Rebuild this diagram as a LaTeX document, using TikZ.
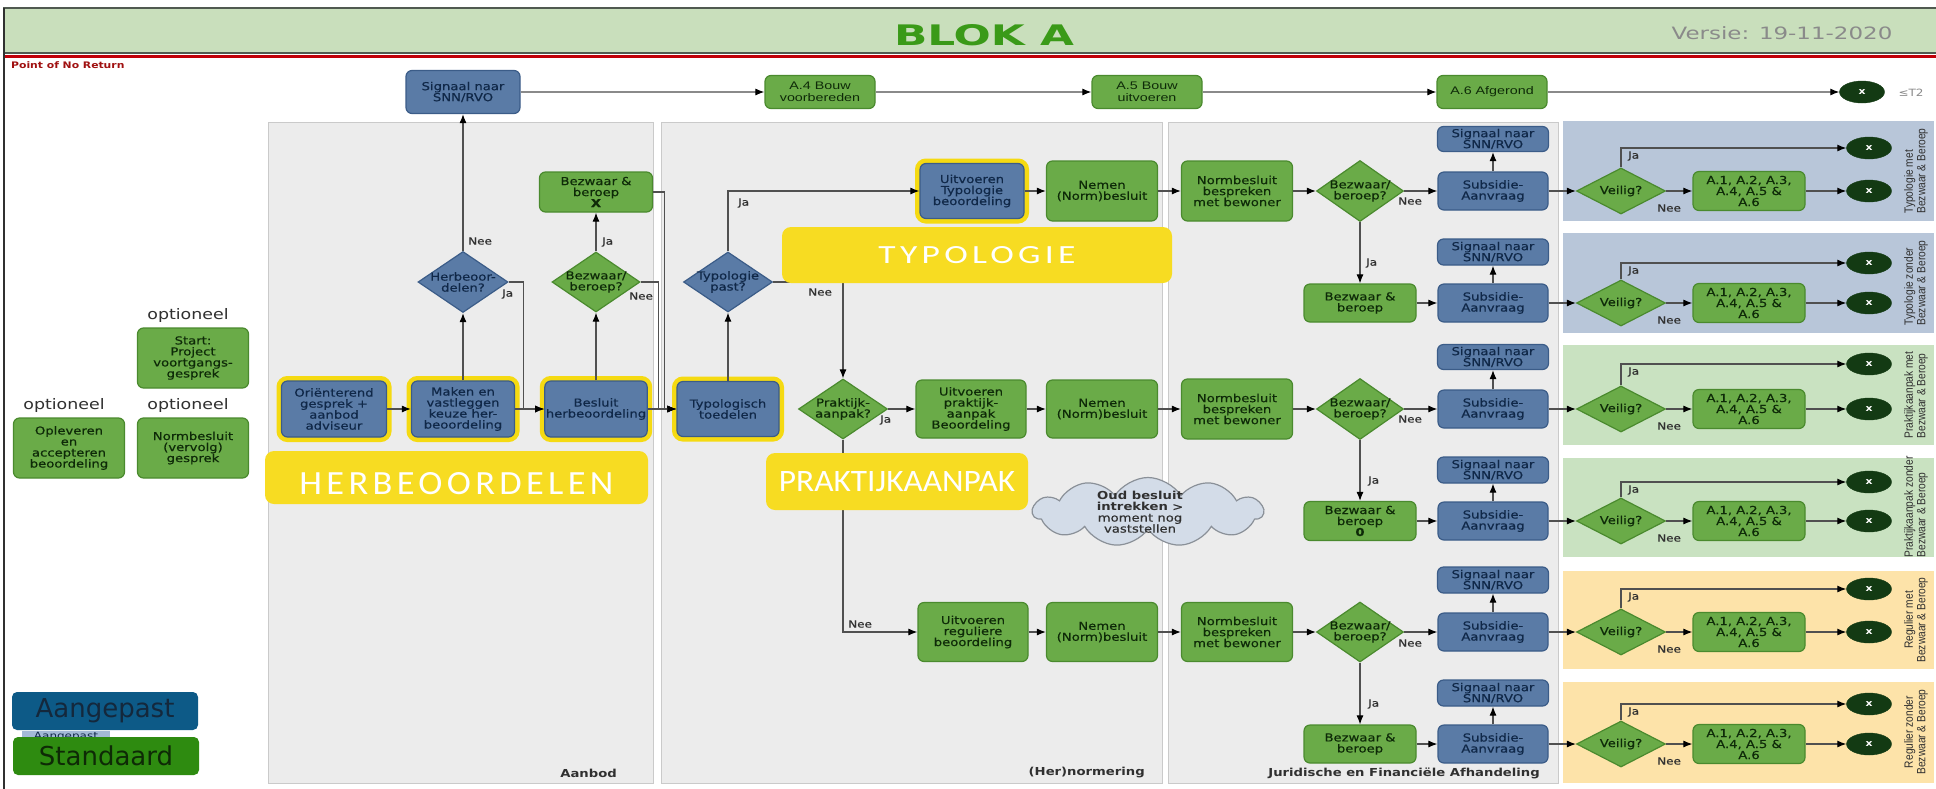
\documentclass[tikz,border=0pt]{standalone}
\usepackage{fontspec}
\usepackage{graphicx}
\setmainfont{DejaVu Sans}
\newfontfamily\bx[FakeStretch=1.2]{DejaVu Sans}
\newfontfamily\bxm[FakeStretch=1.2,FakeBold=0.5]{DejaVu Sans}
\newfontfamily\vx[FakeStretch=1.35]{DejaVu Sans}
\newfontfamily\ax[FakeStretch=1.3]{Liberation Sans}
\newfontfamily\rx[FakeStretch=0.85]{Liberation Sans}
\newfontfamily\cx{Carlito}
\newfontfamily\cxs[LetterSpace=12]{Carlito}
\usetikzlibrary{shapes.geometric,shapes.symbols,arrows.meta}
\definecolor{bluefill}{HTML}{5A7BA6}
\definecolor{blueborder}{HTML}{3B5C88}
\definecolor{bluetext}{HTML}{102848}
\definecolor{greenfill}{HTML}{6AAB48}
\definecolor{greenborder}{HTML}{4A8A2E}
\definecolor{greentext}{HTML}{0E2A08}
\definecolor{ringyellow}{HTML}{F5DA12}
\definecolor{labyellow}{HTML}{F7DC22}
\definecolor{panelgray}{HTML}{ECECEC}
\definecolor{panelborder}{HTML}{CACACA}
\definecolor{rblue}{HTML}{B8C6D9}
\definecolor{rgreen}{HTML}{C9E2C1}
\definecolor{rorange}{HTML}{FDE3A9}
\definecolor{enddark}{HTML}{133A13}
\definecolor{headergreen}{HTML}{C9DFBC}
\definecolor{headerborder}{HTML}{505A50}
\definecolor{titlegreen}{HTML}{3A9A18}
\definecolor{pnrred}{HTML}{A01010}
\definecolor{redline}{HTML}{C00008}
\definecolor{linegray}{HTML}{505050}
\definecolor{toplinegray}{HTML}{8A8A8A}
\definecolor{labgray}{HTML}{303030}
\definecolor{versgray}{HTML}{8A8A8A}
\definecolor{cloudfill}{HTML}{D3DCE8}
\definecolor{cloudborder}{HTML}{8A9098}
\definecolor{legblue}{HTML}{0D5A87}
\definecolor{leggreen}{HTML}{2E8B10}
\definecolor{legtiny}{HTML}{A3B9D6}
\definecolor{legtextb}{HTML}{14283C}
\definecolor{legtextg}{HTML}{0E2A06}
\newcommand\myfs[1]{\fontsize{#1}{#1}\selectfont}
\newcommand\myfsb[2]{\fontsize{#1}{#2}\selectfont}
\tikzset{
 box/.style={rectangle, rounded corners=6pt, line width=1.2pt, align=center, inner sep=1pt, font=\bxm\myfsb{11}{11}},
 bbox/.style={box, fill=bluefill, draw=blueborder, text=bluetext},
 gbox/.style={box, fill=greenfill, draw=greenborder, text=greentext},
 ring/.style={preaction={draw=ringyellow, line width=10pt}},
 sz/.style 2 args={minimum width=#1pt, minimum height=#2pt},
 dia/.style={diamond, inner sep=0pt, line width=1.2pt},
 bdia/.style={dia, fill=bluefill, draw=blueborder},
 gdia/.style={dia, fill=greenfill, draw=greenborder},
 dtextb/.style={align=center, font=\bxm\myfsb{11}{11}, text=bluetext, inner sep=0pt},
 dtextg/.style={align=center, font=\bxm\myfsb{11}{11}, text=greentext, inner sep=0pt},
 endp/.style={ellipse, fill=enddark, draw=enddark, minimum width=45pt, minimum height=22pt, inner sep=0pt, text=white, font=\bx\bfseries\myfs{9}},
 arr/.style={draw=linegray, line width=1.1pt, -{Latex[length=9pt,width=7pt,color=black]}},
 tarr/.style={arr, draw=toplinegray},
 lab/.style={font=\bxm\myfs{10}, text=labgray, inner sep=0pt, anchor=west},
 topf/.style={font=\ax\myfsb{11}{12}},
 optf/.style={font=\bx\myfs{14.5}, text=labgray, inner sep=0pt},
 ylab/.style={rectangle, rounded corners=9pt, fill=labyellow, inner sep=0pt},
 yltext/.style={text=white, inner sep=0pt},
 rot/.style={rotate=90, font=\rx\myfsb{12}{12.5}, text=labgray, inner sep=0pt},
 lanelab/.style={font=\bx\bfseries\myfs{11}, text=labgray, inner sep=0pt, anchor=east},
}
\begin{document}
\begin{tikzpicture}[x=1pt,y=-1pt]
\useasboundingbox (0,0) rectangle (1936,788);
\fill[white] (0,0) rectangle (1936,788);
% header
\draw[fill=headergreen, draw=headerborder, line width=1.2pt] (4,8) rectangle (1945,53);
\draw[redline, line width=3.5pt] (4,56.5) -- (1945,56.5);
\draw[labgray, line width=1.6pt] (4,8) -- (4,792);
\node[text=titlegreen, inner sep=0pt] (title) at (984,35) {\resizebox{180pt}{21pt}{\bx\bfseries BLOK A}};
\node[text=versgray, font=\vx\myfs{17}, inner sep=0pt] (versie) at (1782,33) {Versie: 19-11-2020};
\node[text=pnrred, font=\bx\bfseries\myfs{9}, inner sep=0pt, anchor=west] (pnr) at (11,65) {Point of No Return};
% panels
\filldraw[fill=panelgray, draw=panelborder, line width=1pt] (268,122) rectangle (653,783);
\filldraw[fill=panelgray, draw=panelborder, line width=1pt] (661,122) rectangle (1162,783);
\filldraw[fill=panelgray, draw=panelborder, line width=1pt] (1168,122) rectangle (1558,783);
\fill[rblue] (1563,121) rectangle (1934,221);
\fill[rblue] (1563,233) rectangle (1934,333);
\fill[rgreen] (1563,345) rectangle (1934,445);
\fill[rgreen] (1563,458) rectangle (1934,557);
\fill[rorange] (1563,571) rectangle (1934,669);
\fill[rorange] (1563,682) rectangle (1934,783);
% top row
\node[bbox, sz={114}{43}] (sigTop) at (463,92) {Signaal naar\\SNN/RVO};
\node[gbox, topf, sz={110}{33}] (tA4) at (820,92) {A.4 Bouw\\voorbereden};
\node[gbox, topf, sz={110}{33}] (tA5) at (1147,92) {A.5 Bouw\\uitvoeren};
\node[gbox, topf, sz={110}{33}] (tA6) at (1492,92) {A.6 Afgerond};
\node[endp] (endTop) at (1862,92) {x};
\node[font=\bx\myfs{10}, text=versgray, inner sep=0pt] (st2) at (1911,93) {≤T2};
\draw[tarr] (sigTop) -- (tA4);
\draw[tarr] (tA4) -- (tA5);
\draw[tarr] (tA5) -- (tA6);
\draw[tarr] (tA6) -- (endTop);
% left optional
\node[optf] (opt1) at (188,315) {optioneel};
\node[optf] (opt2) at (64,405) {optioneel};
\node[optf] (opt3) at (188,405) {optioneel};
\node[gbox, sz={111}{60}] (start) at (193,358) {Start:\\Project\\voortgangs-\\gesprek};
\node[gbox, sz={111}{60}] (oplev) at (69,448) {Opleveren\\en\\accepteren\\beoordeling};
\node[gbox, sz={111}{60}] (normv) at (193,448) {Normbesluit\\(vervolg)\\gesprek};
% Aanbod
\node[bbox, ring, sz={105}{56}] (ori) at (334,409) {Oriënterend\\gesprek +\\aanbod\\adviseur};
\node[bbox, ring, sz={103}{56}] (maken) at (463,409) {Maken en\\vastleggen\\keuze her-\\beoordeling};
\node[bbox, ring, sz={102}{56}] (besluit) at (596,409) {Besluit\\herbeoordeling};
\node[bdia, sz={90}{61}, label={[dtextb]center:Herbeoor-\\delen?}] (dHer) at (463,282) {};
\node[gdia, sz={88}{60}, label={[dtextg]center:Bezwaar/\\beroep?}] (dBez0) at (596,282) {};
\node[gbox, sz={113}{40}] (bezX) at (596,192) {Bezwaar \&\\beroep\\\textbf{X}};
% Hernormering
\node[bbox, ring, sz={102}{55}] (typ) at (728,409) {Typologisch\\toedelen};
\node[bdia, sz={89}{60}, label={[dtextb]center:Typologie\\past?}] (dTyp) at (728,282) {};
\node[bbox, ring, sz={104}{55}] (uitTyp) at (972,191) {Uitvoeren\\Typologie\\beoordeling};
\node[gbox, sz={111}{60}] (nemen1) at (1102,191) {Nemen\\(Norm)besluit};
\node[gdia, sz={89}{60}, label={[dtextg]center:Praktijk-\\aanpak?}] (dPrak) at (843,409) {};
\node[gbox, sz={110}{58}] (uitPrak) at (971,409) {Uitvoeren\\praktijk-\\aanpak\\Beoordeling};
\node[gbox, sz={111}{58}] (nemen2) at (1102,409) {Nemen\\(Norm)besluit};
\node[gbox, sz={110}{59}] (uitReg) at (973,632) {Uitvoeren\\reguliere\\beoordeling};
\node[gbox, sz={111}{59}] (nemen3) at (1102,632) {Nemen\\(Norm)besluit};
% Juridisch
\node[gbox, sz={111}{60}] (norm1) at (1237,191) {Normbesluit\\bespreken\\met bewoner};
\node[gdia, sz={87}{61}, label={[dtextg]center:Bezwaar/\\beroep?}] (dJ1) at (1360,191) {};
\node[bbox, sz={110}{38}] (sub1) at (1493,191) {Subsidie-\\Aanvraag};
\node[bbox, sz={111}{25}] (sig1) at (1493,139) {Signaal naar\\SNN/RVO};
\node[gbox, sz={112}{38}] (bez2) at (1360,303) {Bezwaar \&\\beroep};
\node[bbox, sz={110}{38}] (sub2) at (1493,303) {Subsidie-\\Aanvraag};
\node[bbox, sz={111}{26}] (sig2) at (1493,252) {Signaal naar\\SNN/RVO};
\node[gbox, sz={111}{60}] (norm3) at (1237,409) {Normbesluit\\bespreken\\met bewoner};
\node[gdia, sz={87}{61}, label={[dtextg]center:Bezwaar/\\beroep?}] (dJ3) at (1360,409) {};
\node[bbox, sz={110}{38}] (sub3) at (1493,409) {Subsidie-\\Aanvraag};
\node[bbox, sz={111}{25}] (sig3) at (1493,357) {Signaal naar\\SNN/RVO};
\node[gbox, sz={112}{39}] (bez4) at (1360,521) {Bezwaar \&\\beroep\\\textbf{0}};
\node[bbox, sz={110}{38}] (sub4) at (1493,521) {Subsidie-\\Aanvraag};
\node[bbox, sz={111}{26}] (sig4) at (1493,470) {Signaal naar\\SNN/RVO};
\node[gbox, sz={111}{59}] (norm5) at (1237,632) {Normbesluit\\bespreken\\met bewoner};
\node[gdia, sz={87}{60}, label={[dtextg]center:Bezwaar/\\beroep?}] (dJ5) at (1360,632) {};
\node[bbox, sz={110}{38}] (sub5) at (1493,632) {Subsidie-\\Aanvraag};
\node[bbox, sz={111}{26}] (sig5) at (1493,580) {Signaal naar\\SNN/RVO};
\node[gbox, sz={112}{38}] (bez6) at (1360,744) {Bezwaar \&\\beroep};
\node[bbox, sz={110}{38}] (sub6) at (1493,744) {Subsidie-\\Aanvraag};
\node[bbox, sz={111}{26}] (sig6) at (1493,693) {Signaal naar\\SNN/RVO};
% connectors Aanbod
\draw[arr] (ori) -- (maken);
\draw[arr] (maken) -- (besluit);
\draw[arr] (maken) -- (dHer);
\draw[arr] (dHer) -- (sigTop);
\draw[arr] (dHer.east) -- ++(15,0) |- (besluit.west);
\draw[arr] (besluit) -- (dBez0);
\draw[arr] (dBez0) -- (bezX);
\draw[arr] (bezX.east) -- ++(11,0) |- (typ.west);
\draw[arr] (dBez0.east) -- ++(18,0) |- (typ.west);
\draw[arr] (besluit) -- (typ);
\node[lab] (lNee1) at (468,241) {Nee};
\node[lab] (lJa1) at (502,294) {Ja};
\node[lab] (lJa2) at (602,242) {Ja};
\node[lab] (lNee2) at (629,296) {Nee};
% connectors Hernormering
\draw[arr] (typ) -- (dTyp);
\draw[arr] (dTyp.north) |- (uitTyp.west);
\draw[arr] (dTyp.east) -| (dPrak.north);
\draw[arr] (uitTyp) -- (nemen1);
\draw[arr] (nemen1) -- (norm1);
\draw[arr] (dPrak) -- (uitPrak);
\draw[arr] (uitPrak) -- (nemen2);
\draw[arr] (nemen2) -- (norm3);
\draw[arr] (dPrak.south) |- (uitReg.west);
\draw[arr] (uitReg) -- (nemen3);
\draw[arr] (nemen3) -- (norm5);
\node[lab] (lJa3) at (738,203) {Ja};
\node[lab] (lNee3) at (808,292) {Nee};
\node[lab] (lJa4) at (880,420) {Ja};
\node[lab] (lNee4) at (848,624) {Nee};
% connectors Juridisch
\draw[arr] (norm1) -- (dJ1);
\draw[arr] (dJ1) -- (sub1);
\draw[arr] (dJ1) -- (bez2);
\draw[arr] (bez2) -- (sub2);
\draw[arr] (norm3) -- (dJ3);
\draw[arr] (dJ3) -- (sub3);
\draw[arr] (dJ3) -- (bez4);
\draw[arr] (bez4) -- (sub4);
\draw[arr] (norm5) -- (dJ5);
\draw[arr] (dJ5) -- (sub5);
\draw[arr] (dJ5) -- (bez6);
\draw[arr] (bez6) -- (sub6);
\foreach \i in {1,...,6} { \draw[arr] (sub\i) -- (sig\i); }
\node[lab] (lNee5) at (1398,201) {Nee};
\node[lab] (lJa5) at (1366,263) {Ja};
\node[lab] (lNee6) at (1398,419) {Nee};
\node[lab] (lJa6) at (1368,481) {Ja};
\node[lab] (lNee7) at (1398,643) {Nee};
\node[lab] (lJa7) at (1368,704) {Ja};
% right panels
\foreach \i/\py/\pu in {1/191/148, 2/303/263, 3/409/364, 4/521/482, 5/632/589, 6/744/704} {
  \node[gdia, sz={89}{46}, label={[dtextg]center:Veilig?}] (v\i) at (1621,\py) {};
  \node[gbox, sz={112}{39}] (ab\i) at (1749,\py) {A.1, A.2, A.3,\\A.4, A.5 \&\\A.6};
  \node[endp] (el\i) at (1869,\py) {x};
  \node[endp] (eu\i) at (1869,\pu) {x};
  \draw[arr] (v\i.north) |- (eu\i.west);
  \draw[arr] (v\i) -- (ab\i);
  \draw[arr] (ab\i) -- (el\i);
  \draw[arr] (sub\i) -- (v\i);
  \node[lab] (vja\i) at (1628,\pu+8) {Ja};
  \node[lab] (vnee\i) at (1657,\py+17) {Nee};
}
\node[rot, align=left] (rl1) at (1916,171) {Typologie met\\Bezwaar \& Beroep};
\node[rot, align=left] (rl2) at (1916,283) {Typologie zonder\\Bezwaar \& Beroep};
\node[rot, align=left] (rl3) at (1916,395) {Praktijkaanpak met\\Bezwaar \& Beroep};
\node[rot, align=left] (rl4) at (1916,507) {Praktijkaanpak zonder\\Bezwaar \& Beroep};
\node[rot, align=center] (rl5) at (1916,620) {Regulier met\\Bezwaar \& Beroep};
\node[rot, align=center] (rl6) at (1916,732) {Regulier zonder\\Bezwaar \& Beroep};
% yellow section labels
\node[ylab, sz={383}{53}, label={[yltext, yshift=-6pt]center:\resizebox{314pt}{22pt}{\cxs HERBEOORDELEN}}] (herbLab) at (456.5,477.5) {};
\node[ylab, sz={390}{56}, label={[yltext]center:\resizebox{197pt}{17pt}{\cxs TYPOLOGIE}}] (typoLab) at (977,255) {};
\node[ylab, sz={262}{57}, label={[yltext]center:\resizebox{236pt}{20pt}{\cx PRAKTIJKAANPAK}}] (prakLab) at (897,481.5) {};
% cloud
\node[cloud, cloud puffs=11, cloud puff arc=115, cloud ignores aspect, sz={230}{69}, inner sep=0pt, fill=cloudfill, draw=cloudborder, line width=1.2pt, label={[align=center, font=\bxm\myfsb{11}{11}, text=labgray, inner sep=0pt, xshift=-8pt]center:{\bx\bfseries Oud besluit}\\{\bx\bfseries intrekken} >\\moment nog\\vaststellen}] (cloud) at (1148,512) {};
% lane labels
\node[lanelab] (lAanbod) at (617,773) {Aanbod};
\node[lanelab] (lHern) at (1145,772) {(Her)normering};
\node[lanelab] (lJur) at (1540,773) {Juridische en Financiële Afhandeling};
% legend
\node[rectangle, fill=legtiny, minimum width=88pt, minimum height=12pt, inner sep=0pt, font=\bx\myfs{10}, text=bluetext] (legT) at (66,737) {Aangepast};
\node[rectangle, rounded corners=5pt, fill=legblue, sz={186}{38}, inner sep=0pt, font=\myfs{26}, text=legtextb] (legA) at (105,711) {Aangepast};
\node[rectangle, rounded corners=5pt, fill=leggreen, sz={186}{38}, inner sep=0pt, font=\myfs{26}, text=legtextg] (legS) at (106,756) {Standaard};
\end{tikzpicture}
\end{document}
